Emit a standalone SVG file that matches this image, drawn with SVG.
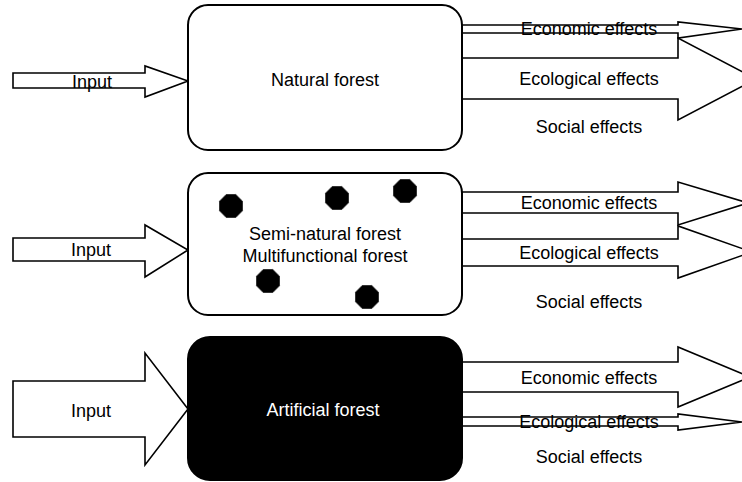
<svg xmlns="http://www.w3.org/2000/svg" width="742" height="482" viewBox="0 0 742 482">
  <style>
    .bg { fill: #ffffff; }
    .arrow { fill: #ffffff; stroke: #000000; stroke-width: 1.6; stroke-linejoin: miter; }
    .box { fill: #ffffff; stroke: #000000; stroke-width: 2; }
    .box-dark { fill: #000000; stroke: #000000; stroke-width: 2; }
    .lbl { font-family: "Liberation Sans", Arial, sans-serif; font-size: 18px; fill: #000000; text-anchor: middle; }
    .lbl-inv { font-family: "Liberation Sans", Arial, sans-serif; font-size: 18px; fill: #ffffff; text-anchor: middle; }
    .tree { fill: #000000; stroke: #333333; stroke-width: 1; }
  </style>
  <defs>
    <!-- tree marker: regular octagon, flat top -->
    <polygon id="oct" points="4.8,-11.5 11.5,-4.8 11.5,4.8 4.8,11.5 -4.8,11.5 -11.5,4.8 -11.5,-4.8 -4.8,-11.5"/>
  </defs>

  <rect class="bg" x="0" y="0" width="742" height="482"/>

  <!-- block arrows: inputs into each forest type and effects out of it -->
  <g id="connectors">
    <!-- row 1 -->
    <polygon class="arrow" points="13,73 145,73 145,66 188,81 145,97 145,88 13,88"/>
    <polygon class="arrow" points="462,58 678,58 678,38 756,79 678,120 678,99 462,99"/>
    <polygon class="arrow" points="462,25 678,25 678,22 742,29 678,38 678,33 462,33"/>

    <!-- row 2 -->
    <polygon class="arrow" points="13,238 145,238 145,225 188,250 145,277 145,261 13,261"/>
    <polygon class="arrow" points="462,192 678,192 678,182 748,203 678,225 678,213 462,213"/>
    <polygon class="arrow" points="462,239 678,239 678,226 752,252 678,278 678,266 462,266"/>

    <!-- row 3 -->
    <polygon class="arrow" points="13,381 145,381 145,353 188,409 145,465 145,437 13,437"/>
    <polygon class="arrow" points="462,362 678,362 678,347 750,377 678,407 678,392 462,392"/>
    <polygon class="arrow" points="462,417 678,417 678,414 742,422 678,430 678,426 462,426"/>
  </g>

  <g id="natural-forest">
    <rect class="box" x="188" y="5" width="274" height="145" rx="20" ry="20"/>
    <text class="lbl" x="325" y="86">Natural forest</text>
  </g>

  <g id="semi-natural-forest">
    <rect class="box" x="188" y="173" width="274" height="142" rx="20" ry="20"/>
    <use href="#oct" class="tree" x="231" y="206"/>
    <use href="#oct" class="tree" x="337" y="198"/>
    <use href="#oct" class="tree" x="405" y="191"/>
    <use href="#oct" class="tree" x="268" y="281"/>
    <use href="#oct" class="tree" x="367" y="297"/>
    <text class="lbl" x="325" y="240">Semi-natural forest</text>
    <text class="lbl" x="325" y="262">Multifunctional forest</text>
  </g>

  <g id="artificial-forest">
    <rect class="box-dark" x="188" y="337" width="274" height="143" rx="22" ry="22"/>
    <text class="lbl-inv" x="323" y="416">Artificial forest</text>
  </g>

  <!-- arrow labels -->
  <g id="labels">
    <text class="lbl" x="92" y="88">Input</text>
    <text class="lbl" x="589" y="35">Economic effects</text>
    <text class="lbl" x="589" y="85">Ecological effects</text>
    <text class="lbl" x="589" y="133">Social effects</text>

    <text class="lbl" x="91" y="256">Input</text>
    <text class="lbl" x="589" y="209">Economic effects</text>
    <text class="lbl" x="589" y="259">Ecological effects</text>
    <text class="lbl" x="589" y="308">Social effects</text>

    <text class="lbl" x="91" y="417">Input</text>
    <text class="lbl" x="589" y="384">Economic effects</text>
    <text class="lbl" x="589" y="428">Ecological effects</text>
    <text class="lbl" x="589" y="463">Social effects</text>
  </g>
</svg>
